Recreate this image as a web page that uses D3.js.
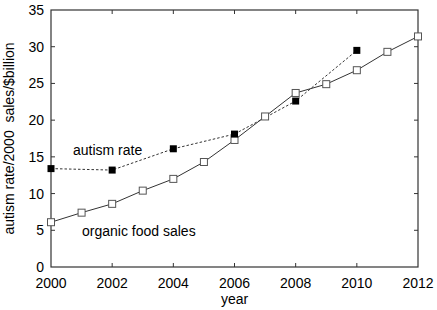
<!DOCTYPE html>
<html>
<head>
<meta charset="utf-8">
<script src="https://cdn.jsdelivr.net/npm/d3@7"></script>
<style>
  body { margin: 0; background: #fff; }
  text { font-family: "Liberation Sans", Arial, sans-serif; fill: #000; }
</style>
</head>
<body>
<div id="chart"></div>
<script>
// data
const organicYears = [2000, 2001, 2002, 2003, 2004, 2005, 2006, 2007, 2008, 2009, 2010, 2011, 2012];
const organicSales = [6.1, 7.4, 8.6, 10.4, 12.0, 14.3, 17.3, 20.5, 23.7, 24.9, 26.8, 29.3, 31.4];
const autismYears = [2000, 2002, 2004, 2006, 2008, 2010];
const autismRate = [13.4, 13.2, 16.1, 18.1, 22.6, 29.5];
const xTicks = [2000, 2002, 2004, 2006, 2008, 2010, 2012];
const yTicks = [0, 5, 10, 15, 20, 25, 30, 35];

const width = 437, height = 310;
const margin = { top: 10, right: 19, bottom: 43, left: 51 };

const svg = d3.select("#chart").append("svg")
  .attr("width", width)
  .attr("height", height);

const x = d3.scaleLinear().domain([2000, 2012]).range([margin.left, width - margin.right]);
const y = d3.scaleLinear().domain([0, 35]).range([height - margin.bottom, margin.top]);

const axisColor = "#333";
const tick = 4;

// frame
svg.append("rect")
  .attr("x", x(2000)).attr("y", y(35))
  .attr("width", x(2012) - x(2000))
  .attr("height", y(0) - y(35))
  .attr("fill", "none")
  .attr("stroke", axisColor)
  .attr("stroke-width", 1.2);

// inward ticks on all sides (mirrored)
const xInner = xTicks.slice(1, -1);
const yInner = yTicks.slice(1, -1);
svg.selectAll(".xtb").data(xInner).join("line")
  .attr("x1", d => x(d)).attr("x2", d => x(d))
  .attr("y1", y(0)).attr("y2", y(0) - tick)
  .attr("stroke", axisColor);
svg.selectAll(".xtt").data(xInner).join("line")
  .attr("class", "xtt")
  .attr("x1", d => x(d)).attr("x2", d => x(d))
  .attr("y1", y(35)).attr("y2", y(35) + tick)
  .attr("stroke", axisColor);
svg.selectAll(".ytl").data(yInner).join("line")
  .attr("class", "ytl")
  .attr("x1", x(2000)).attr("x2", x(2000) + tick)
  .attr("y1", d => y(d)).attr("y2", d => y(d))
  .attr("stroke", axisColor);
svg.selectAll(".ytr").data(yInner).join("line")
  .attr("class", "ytr")
  .attr("x1", x(2012)).attr("x2", x(2012) - tick)
  .attr("y1", d => y(d)).attr("y2", d => y(d))
  .attr("stroke", axisColor);

// tick labels
svg.selectAll(".xl").data(xTicks).join("text")
  .attr("class", "xl")
  .attr("x", d => x(d))
  .attr("y", y(0) + 21)
  .attr("text-anchor", "middle")
  .attr("font-size", 14)
  .text(d => d);
svg.selectAll(".yl").data(yTicks).join("text")
  .attr("class", "yl")
  .attr("x", x(2000) - 7)
  .attr("y", d => y(d) + 5)
  .attr("text-anchor", "end")
  .attr("font-size", 14)
  .text(d => d);

// axis titles
svg.append("text")
  .attr("x", (x(2000) + x(2012)) / 2)
  .attr("y", 304)
  .attr("text-anchor", "middle")
  .attr("font-size", 14)
  .text("year");
svg.append("text")
  .attr("transform", `translate(14,${(y(0) + y(35)) / 2}) rotate(-90)`)
  .attr("text-anchor", "middle")
  .attr("font-size", 14)
  .attr("xml:space", "preserve")
  .style("white-space", "pre")
  .text("autism rate/2000  sales/$billion");

const organic = organicYears.map((d, i) => [d, organicSales[i]]);
const autism = autismYears.map((d, i) => [d, autismRate[i]]);
const line = d3.line().x(d => x(d[0])).y(d => y(d[1]));

svg.append("path")
  .attr("d", line(autism))
  .attr("fill", "none")
  .attr("stroke", "#333")
  .attr("stroke-width", 1)
  .attr("stroke-dasharray", "2.5,2");
svg.append("path")
  .attr("d", line(organic))
  .attr("fill", "none")
  .attr("stroke", "#333")
  .attr("stroke-width", 1);

const s = 7;
svg.selectAll(".om").data(organic).join("rect")
  .attr("class", "om")
  .attr("x", d => x(d[0]) - s / 2)
  .attr("y", d => y(d[1]) - s / 2)
  .attr("width", s).attr("height", s)
  .attr("fill", "#fff")
  .attr("stroke", "#555")
  .attr("stroke-width", 1);
svg.selectAll(".am").data(autism).join("rect")
  .attr("class", "am")
  .attr("x", d => x(d[0]) - s / 2)
  .attr("y", d => y(d[1]) - s / 2)
  .attr("width", s).attr("height", s)
  .attr("fill", "#000");

// series labels
svg.append("text")
  .attr("x", 73).attr("y", 155)
  .attr("font-size", 14)
  .text("autism rate");
svg.append("text")
  .attr("x", 82).attr("y", 236)
  .attr("font-size", 14)
  .text("organic food sales");
</script>
</body>
</html>
